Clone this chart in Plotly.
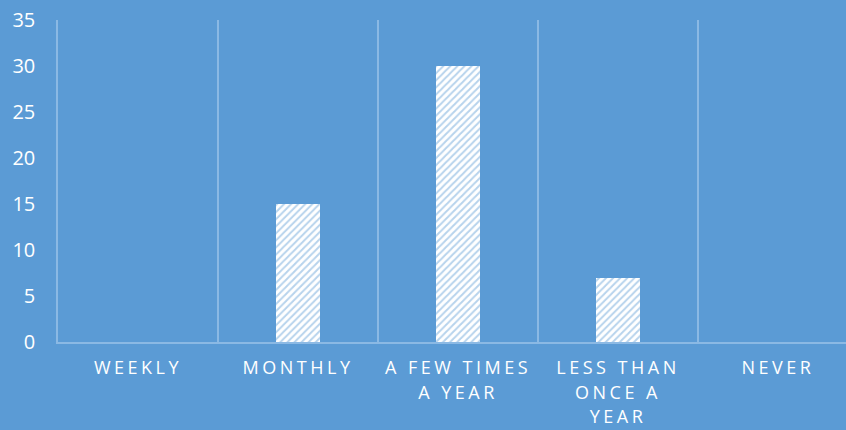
import plotly.graph_objects as go

# Survey responses: how often people do the activity
categories = ["WEEKLY", "MONTHLY", "A FEW TIMES<br>A YEAR", "LESS THAN<br>ONCE A<br>YEAR", "NEVER"]
counts = [0, 15, 30, 7, 0]
y_ticks = [0, 5, 10, 15, 20, 25, 30, 35]

BG = "#5B9BD5"
GRID = "#8BB9E4"
FONT = "Open Sans"

fig = go.Figure(
    go.Bar(
        x=categories,
        y=counts,
        width=0.275,
        marker=dict(
            color="white",
            line=dict(width=0),
            pattern=dict(shape="/", bgcolor="white", fgcolor="#6FA7DA", size=5, solidity=0.4),
        ),
        hoverinfo="skip",
    )
)

fig.update_layout(
    width=846,
    height=430,
    margin=dict(l=58, r=0, t=20, b=88),
    paper_bgcolor=BG,
    plot_bgcolor=BG,
    showlegend=False,
    bargap=0,
    xaxis=dict(
        type="category",
        range=[-0.5, 4.425],
        tickson="boundaries",
        showgrid=True,
        gridcolor=GRID,
        gridwidth=1.5,
        showline=True,
        linecolor=GRID,
        linewidth=1.5,
        ticks="",
        tickfont=dict(family=FONT, size=18, color="white"),
        ticklabelstandoff=9,
    ),
    yaxis=dict(
        range=[0, 35],
        tickvals=y_ticks,
        showgrid=False,
        zeroline=False,
        showline=True,
        linecolor=GRID,
        linewidth=1.5,
        ticks="",
        ticklabelstandoff=17,
        tickfont=dict(family=FONT, size=20, color="white"),
    ),
)

# Spread the category label letters apart and open up the line spacing
post = """
var gd = document.getElementById('{plot_id}');
function spread(){
  document.querySelectorAll('.xtick text').forEach(function(t){
    t.style.letterSpacing = '3.5px';
    t.querySelectorAll('tspan.line').forEach(function(s, i){
      if (i > 0) { s.setAttribute('dy', (i * 1.36) + 'em'); }
    });
  });
}
spread();
gd.on('plotly_afterplot', spread);
"""

fig.write_html("out.html", post_script=post, config={"displayModeBar": False})
